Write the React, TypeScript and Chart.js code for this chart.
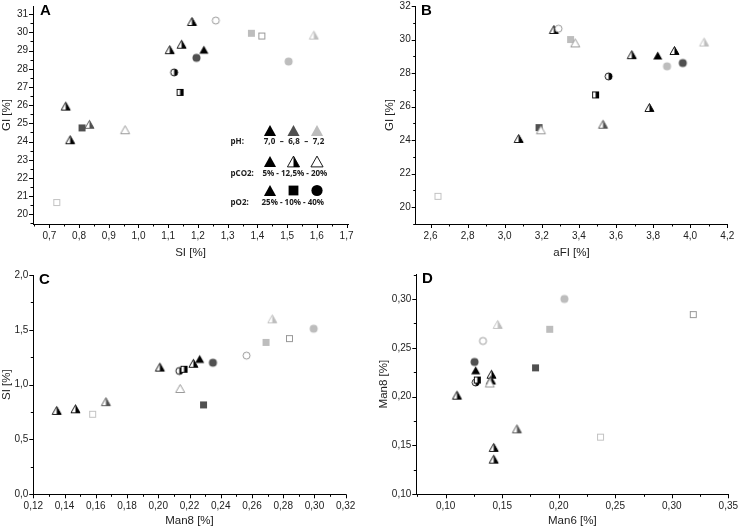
import React, { useEffect, useRef } from 'react';
import { Chart, registerables } from 'chart.js';

Chart.register(...registerables);
Chart.defaults.font.family = '"Liberation Sans", Arial, sans-serif';

// Marker codes: [colour k=black d=dark grey l=light grey m=mid grey][fill f=full h=half o=open][shape t=triangle s=square c=circle]

// Panel A: GI vs SI
const aSI = [0.755, 0.77, 0.81, 0.835, 0.955, 0.725, 1.105, 1.145, 1.18, 1.22, 1.195, 1.12, 1.14, 1.26, 1.38, 1.415, 1.505, 1.59];
const aGI = [25.95, 24.1, 24.75, 24.95, 24.65, 20.65, 29.05, 29.35, 30.6, 29.05, 28.6, 27.8, 26.7, 30.65, 29.95, 29.8, 28.4, 29.85];
const aMarkers = ['kht', 'kht', 'dfs', 'dht', 'mot', 'los', 'kht', 'kht', 'kht', 'kft', 'dfc', 'khc', 'khs', 'moc', 'lfs', 'mos', 'lfc', 'lht'];

// Panel B: GI vs aFI
const bAFI = [3.265, 3.29, 3.355, 3.38, 3.685, 3.825, 3.915, 3.96, 3.875, 3.56, 3.49, 3.78, 3.53, 3.185, 3.195, 3.075, 2.64, 4.075];
const bGI = [30.6, 30.65, 30.0, 29.8, 29.1, 29.05, 29.35, 28.6, 28.4, 27.8, 26.7, 25.95, 24.95, 24.75, 24.62, 24.1, 20.65, 29.85];
const bMarkers = ['kht', 'moc', 'lfs', 'mot', 'kht', 'kft', 'kht', 'dfc', 'lfc', 'khc', 'khs', 'kht', 'dht', 'dfs', 'mot', 'kht', 'los', 'lht'];

// Panel C: SI vs Man8
const cMan8 = [0.135, 0.147, 0.158, 0.1665, 0.201, 0.214, 0.2135, 0.2165, 0.2225, 0.2265, 0.235, 0.229, 0.2565, 0.269, 0.284, 0.2995, 0.273];
const cSI = [0.765, 0.78, 0.73, 0.845, 1.16, 0.965, 1.125, 1.14, 1.195, 1.235, 1.2, 0.815, 1.265, 1.385, 1.42, 1.51, 1.6];
const cMarkers = ['kht', 'kht', 'los', 'dht', 'kht', 'mot', 'khc', 'khs', 'kht', 'kft', 'dfc', 'dfs', 'moc', 'lfs', 'mos', 'lfc', 'lht'];

// Panel D: Man8 vs Man6
const dMan6 = [0.205, 0.319, 0.146, 0.192, 0.133, 0.1255, 0.1265, 0.1795, 0.1405, 0.14, 0.139, 0.1265, 0.128, 0.11, 0.163, 0.237, 0.1425, 0.1425];
const dMan8 = [0.3, 0.284, 0.274, 0.269, 0.257, 0.2355, 0.227, 0.2295, 0.223, 0.217, 0.214, 0.2145, 0.217, 0.2015, 0.167, 0.1585, 0.148, 0.136];
const dMarkers = ['lfc', 'mos', 'lht', 'lfs', 'moc', 'dfc', 'kft', 'dfs', 'kht', 'kht', 'mot', 'khc', 'khs', 'kht', 'dht', 'los', 'kht', 'kht'];

// Legend of panel A
const legendRows = ['pH:', 'pCO2:', 'pO2:'];
const legendMarkers = [['kft', 'dft', 'lft'], ['kft', 'kht', 'kot'], ['kft', 'kfs', 'kfc']];
const phValues = ['7,0', '6,8', '7,2'];
const co2Text = '5% - 12,5% - 20%';
const o2Text = '25% - 10% - 40%';

const COLORS: Record<string, string> = { k: '#000000', d: '#505050', l: '#bdbdbd', m: '#8e8e8e' };

function drawMarker(ctx: CanvasRenderingContext2D, code: string, cx: number, cy: number, k: number) {
  const col = COLORS[code[0]];
  const fill = code[1];
  const shape = code[2];
  ctx.save();
  ctx.lineWidth = 0.9;
  ctx.strokeStyle = col;
  ctx.fillStyle = col;
  if (shape === 't') {
    const w = 9 * k;
    const h = 8 * k;
    const yt = cy - h / 2;
    const yb = cy + h / 2;
    const path = () => {
      ctx.beginPath();
      ctx.moveTo(cx - w / 2, yb);
      ctx.lineTo(cx + w / 2, yb);
      ctx.lineTo(cx, yt);
      ctx.closePath();
    };
    if (fill === 'f') {
      path();
      ctx.fill();
    } else {
      path();
      ctx.fillStyle = '#fff';
      ctx.fill();
      if (fill === 'h') {
        ctx.beginPath();
        ctx.moveTo(cx, yt);
        ctx.lineTo(cx + w / 2, yb);
        ctx.lineTo(cx, yb);
        ctx.closePath();
        ctx.fillStyle = col;
        ctx.fill();
      }
      path();
      ctx.stroke();
    }
  } else if (shape === 's') {
    const s = 7 * k;
    const x0 = cx - s / 2;
    const y0 = cy - s / 2;
    if (fill === 'f') {
      ctx.fillRect(x0, y0, s, s);
    } else {
      ctx.fillStyle = '#fff';
      ctx.fillRect(x0, y0, s, s);
      if (fill === 'h') {
        ctx.fillStyle = col;
        ctx.fillRect(cx, y0, s / 2, s);
      }
      ctx.strokeRect(x0 + 0.5, y0 + 0.5, s - 1, s - 1);
    }
  } else {
    const r = 4 * k;
    if (fill === 'f') {
      ctx.beginPath();
      ctx.arc(cx, cy, r, 0, Math.PI * 2);
      ctx.fill();
    } else {
      ctx.beginPath();
      ctx.arc(cx, cy, r - 0.5, 0, Math.PI * 2);
      ctx.fillStyle = '#fff';
      ctx.fill();
      if (fill === 'h') {
        ctx.beginPath();
        ctx.arc(cx, cy, r - 0.5, -Math.PI / 2, Math.PI / 2);
        ctx.closePath();
        ctx.fillStyle = col;
        ctx.fill();
      }
      ctx.beginPath();
      ctx.arc(cx, cy, r - 0.5, 0, Math.PI * 2);
      ctx.stroke();
    }
  }
  ctx.restore();
}

const imgCache: Record<string, HTMLCanvasElement> = {};
function markerImage(code: string): HTMLCanvasElement {
  if (imgCache[code]) return imgCache[code];
  const c = document.createElement('canvas');
  c.width = 13;
  c.height = 13;
  const ctx = c.getContext('2d')!;
  drawMarker(ctx, code, 6.5, 6.5, 1);
  imgCache[code] = c;
  return c;
}

type Axis = { min: number; max: number; minor: number; major: number; dec: number };
type PanelDef = {
  left: number; top: number; w: number; h: number;
  xs: number[]; ys: number[]; marks: string[];
  xTitle: string; yTitle: string; x: Axis; y: Axis;
  padTop: number; padRight: number; yW: number; xH: number;
  yTitlePad: number; xTitlePad: number;
  letter: string; letterX: number; letterY: number; legend?: boolean;
};

const isMajor = (v: number, major: number) => Math.abs(v / major - Math.round(v / major)) < 1e-6;
const fmt = (v: number, dec: number) => v.toFixed(dec).replace('.', ',');

function tickValues(ax: Axis): { value: number }[] {
  const out: { value: number }[] = [];
  const start = Math.ceil(ax.min / ax.minor - 1e-6);
  const end = Math.floor(ax.max / ax.minor + 1e-6);
  for (let i = start; i <= end; i++) {
    out.push({ value: Math.round(i * ax.minor * 1e6) / 1e6 });
  }
  return out;
}

const decorPlugin = {
  id: 'decor',
  afterDraw(chart: any, _args: any, opts: any) {
    const ctx: CanvasRenderingContext2D = chart.ctx;
    const area = chart.chartArea;
    ctx.save();
    ctx.strokeStyle = '#000';
    ctx.lineWidth = 1;
    const xs = chart.scales.x;
    const ys = chart.scales.y;
    ctx.beginPath();
    xs.ticks.forEach((t: any) => {
      const len = isMajor(t.value, opts.xMajor) ? 4 : 2.5;
      const px = Math.round(xs.getPixelForValue(t.value)) + 0.5;
      ctx.moveTo(px, area.bottom);
      ctx.lineTo(px, area.bottom + len);
    });
    ys.ticks.forEach((t: any) => {
      const len = isMajor(t.value, opts.yMajor) ? 4 : 2.5;
      const py = Math.round(ys.getPixelForValue(t.value)) + 0.5;
      ctx.moveTo(area.left - len, py);
      ctx.lineTo(area.left, py);
    });
    ctx.stroke();

    ctx.fillStyle = '#000';
    ctx.font = 'bold 15px "Liberation Sans", Arial, sans-serif';
    ctx.textAlign = 'left';
    ctx.textBaseline = 'alphabetic';
    ctx.fillText(opts.letter, opts.letterX, opts.letterY);

    if (opts.legend) {
      const mx = [270, 293.5, 317];
      const my = [130.5, 161.5, 190.5];
      const ty = [142, 173.5, 203];
      legendMarkers.forEach((row, r) => {
        row.forEach((code, i) => {
          const k = code[2] === 't' ? 1.35 : 1.4;
          drawMarker(ctx, code, mx[i], my[r], k);
        });
      });
      ctx.fillStyle = '#1a1a1a';
      ctx.font = 'bold 8px "Open Sans", "DejaVu Sans", sans-serif';
      ctx.textBaseline = 'middle';
      ctx.textAlign = 'left';
      legendRows.forEach((lbl, r) => ctx.fillText(lbl, 230.5, ty[r]));
      ctx.textAlign = 'center';
      const phX = [269.5, 294, 318.5];
      phValues.forEach((v, i) => ctx.fillText(v, phX[i], ty[0]));
      ctx.fillText('\u2013', 281.8, ty[0]);
      ctx.fillText('\u2013', 306.2, ty[0]);
      ctx.textAlign = 'left';
      ctx.fillText(co2Text, 262.5, ty[1]);
      ctx.fillText(o2Text, 261.5, ty[2]);
    }
    ctx.restore();
  },
};

function axisOpts(ax: Axis, title: string, isX: boolean, size: number, titlePad: number) {
  return {
    type: 'linear',
    position: isX ? 'bottom' : 'left',
    min: ax.min,
    max: ax.max,
    bounds: 'data',
    grid: { display: true, drawOnChartArea: false, drawTicks: true, tickLength: 4, color: 'rgba(0,0,0,0)' },
    border: { display: true, color: '#000', width: 1 },
    afterBuildTicks: (s: any) => {
      s.ticks = tickValues(ax);
    },
    ticks: {
      autoSkip: false,
      maxRotation: 0,
      minRotation: 0,
      padding: isX ? 2 : 1,
      color: '#222',
      font: { size: 10 },
      callback: (v: any) => (isMajor(Number(v), ax.major) ? fmt(Number(v), ax.dec) : ''),
    },
    title: {
      display: true,
      text: title,
      color: '#222',
      font: { size: 11.5 },
      padding: isX ? { top: 0, bottom: titlePad } : { top: titlePad, bottom: 0 },
    },
    afterFit: (s: any) => {
      if (isX) s.height = size;
      else s.width = size;
      s.paddingLeft = 0;
      s.paddingRight = 0;
      s.paddingTop = 0;
      s.paddingBottom = 0;
    },
  };
}

const panels: PanelDef[] = [
  {
    left: 0, top: 0, w: 369, h: 264, xs: aSI, ys: aGI, marks: aMarkers,
    xTitle: 'SI [%]', yTitle: 'GI [%]',
    x: { min: 0.645, max: 1.705, minor: 0.05, major: 0.1, dec: 1 },
    y: { min: 19.47, max: 31.45, minor: 0.5, major: 1, dec: 0 },
    padTop: 5, padRight: 21, yW: 33, xH: 40, yTitlePad: 0, xTitlePad: 4,
    letter: 'A', letterX: 40, letterY: 15, legend: true,
  },
  {
    left: 369, top: 0, w: 369, h: 264, xs: bAFI, ys: bGI, marks: bMarkers,
    xTitle: 'aFI [%]', yTitle: 'GI [%]',
    x: { min: 2.52, max: 4.2, minor: 0.1, major: 0.2, dec: 1 },
    y: { min: 19, max: 32, minor: 1, major: 2, dec: 0 },
    padTop: 4, padRight: 10.7, yW: 46.7, xH: 40, yTitlePad: 13.8, xTitlePad: 4,
    letter: 'B', letterX: 52, letterY: 15,
  },
  {
    left: 0, top: 264, w: 369, h: 265, xs: cMan8, ys: cSI, marks: cMarkers,
    xTitle: 'Man8 [%]', yTitle: 'SI [%]',
    x: { min: 0.12, max: 0.32, minor: 0.01, major: 0.02, dec: 2 },
    y: { min: 0, max: 2.0, minor: 0.25, major: 0.5, dec: 1 },
    padTop: 11, padRight: 23.3, yW: 33.3, xH: 34.7, yTitlePad: 0, xTitlePad: 1.5,
    letter: 'C', letterX: 39, letterY: 20,
  },
  {
    left: 369, top: 264, w: 369, h: 265, xs: dMan6, ys: dMan8, marks: dMarkers,
    xTitle: 'Man6 [%]', yTitle: 'Man8 [%]',
    x: { min: 0.074, max: 0.35, minor: 0.025, major: 0.05, dec: 2 },
    y: { min: 0.1, max: 0.3256, minor: 0.025, major: 0.05, dec: 2 },
    padTop: 10, padRight: 9.7, yW: 47.3, xH: 34.7, yTitlePad: 8, xTitlePad: 1.5,
    letter: 'D', letterX: 53, letterY: 19,
  },
];

function Panel({ p }: { p: PanelDef }) {
  const ref = useRef<HTMLCanvasElement>(null);
  useEffect(() => {
    if (!ref.current) return;
    const images = p.marks.map((m) => markerImage(m));
    const chart = new Chart(ref.current, {
      type: 'scatter',
      data: {
        datasets: [
          {
            data: p.xs.map((x, i) => ({ x, y: p.ys[i] })),
            pointStyle: images as any,
            pointRadius: 5,
            pointHoverRadius: 5,
          },
        ],
      },
      options: {
        animation: false,
        responsive: false,
        events: [],
        layout: { padding: { left: 0, top: p.padTop, right: p.padRight, bottom: 0 } },
        plugins: {
          legend: { display: false },
          tooltip: { enabled: false },
          decor: {
            xMajor: p.x.major, yMajor: p.y.major, letter: p.letter,
            letterX: p.letterX, letterY: p.letterY, legend: !!p.legend,
          },
        } as any,
        scales: {
          x: axisOpts(p.x, p.xTitle, true, p.xH, p.xTitlePad) as any,
          y: axisOpts(p.y, p.yTitle, false, p.yW, p.yTitlePad) as any,
        },
      },
      plugins: [decorPlugin as any],
    });
    return () => chart.destroy();
  }, [p]);
  return (
    <canvas
      ref={ref}
      width={p.w}
      height={p.h}
      style={{ position: 'absolute', left: p.left, top: p.top, width: p.w, height: p.h }}
    />
  );
}

export default function App() {
  useEffect(() => {
    document.body.style.margin = '0';
    document.body.style.background = '#fff';
  }, []);
  return (
    <div style={{ position: 'absolute', left: 0, top: 0, width: 738, height: 529, background: '#fff' }}>
      {panels.map((p, i) => (
        <Panel key={i} p={p} />
      ))}
    </div>
  );
}
